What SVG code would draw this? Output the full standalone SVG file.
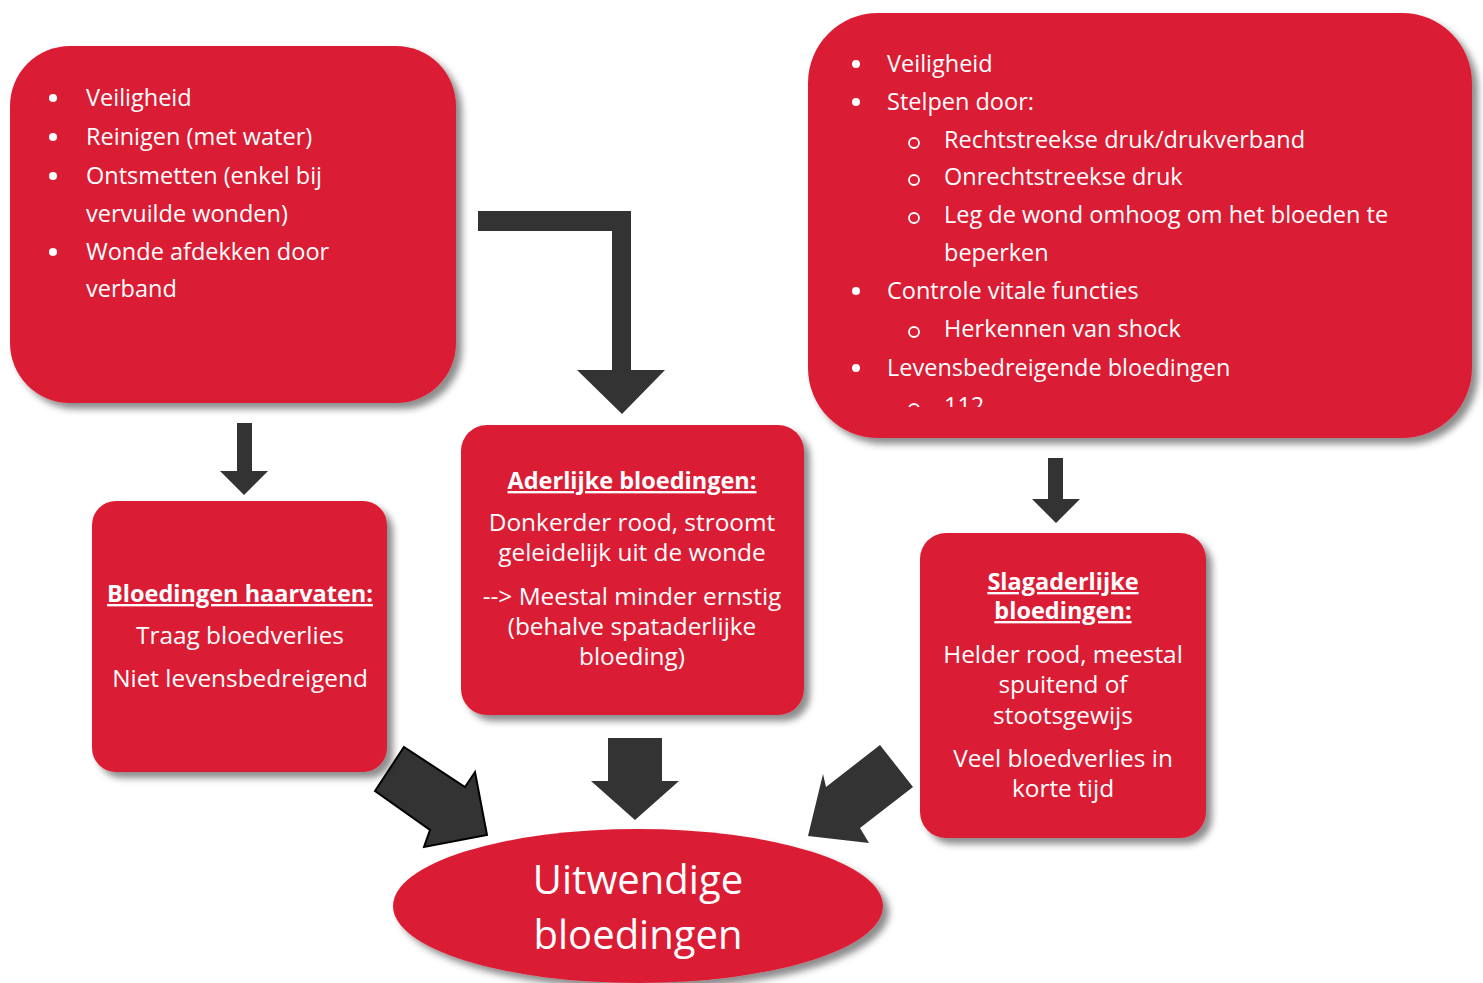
<svg xmlns="http://www.w3.org/2000/svg" width="1483" height="983" viewBox="0 0 1483 983">
<defs>
<style>
.box{fill:#DB1F35;filter:url(#sh);}
.t{font-family:"Open Sans","DejaVu Sans",sans-serif;font-size:23.5px;fill:#fff;}
.m{font-size:24.4px;}
.c{text-anchor:middle;}
.b{font-weight:bold;text-decoration:underline;font-size:23.5px;}
.big{font-family:"Open Sans","DejaVu Sans",sans-serif;font-size:40px;fill:#fff;text-anchor:middle;}
.dot{fill:#fff;}
.ring{fill:none;stroke:#fff;stroke-width:1.8;}
.arr{fill:#333333;}
</style>
<filter id="sh" x="-10%" y="-10%" width="125%" height="130%">
<feDropShadow dx="6" dy="6" stdDeviation="3.5" flood-color="#000" flood-opacity="0.45"/>
</filter>
<clipPath id="clipR"><rect x="808" y="13" width="664" height="394"/></clipPath>
</defs>
<rect width="1483" height="983" fill="#fff"/>

<g id="connectors">
<polygon class="arr" points="478,211 631,211 631,370 665,370 622,414 577,370 612,370 612,231 478,231"/>
<polygon class="arr" points="237,423 252,423 252,471 268,471 244,495 220,471 237,471"/>
<polygon class="arr" points="1048,458 1063,458 1063,499 1080,499 1056,523 1032,499 1048,499"/>
<polygon class="arr" points="608,738 662,738 662,781 679,781 635,820 591,781 608,781"/>
<polygon class="arr" points="404,747 465,787 475,772 487,835 424,847 430,830 375,791" stroke="#000" stroke-width="2" stroke-linejoin="miter"/>
<polygon class="arr" points="880,745 913,787 860,828 869,843 808,836 823,774 826,787"/>
</g>

<g id="node-care-left">
<rect class="box" x="10" y="46" width="446" height="357" rx="60" ry="60"/>
<circle class="dot" cx="53" cy="98" r="4"/>
<circle class="dot" cx="53" cy="137" r="4"/>
<circle class="dot" cx="53" cy="176" r="4"/>
<circle class="dot" cx="53" cy="252" r="4"/>
<text class="t" x="86" y="106">Veiligheid</text>
<text class="t" x="86" y="145">Reinigen (met water)</text>
<text class="t" x="86" y="184">Ontsmetten (enkel bij</text>
<text class="t" x="86" y="222">vervuilde wonden)</text>
<text class="t" x="86" y="260">Wonde afdekken door</text>
<text class="t" x="86" y="297">verband</text>
</g>

<g id="node-care-right">
<rect class="box" x="808" y="13" width="664" height="425" rx="70" ry="70"/>
<g clip-path="url(#clipR)">
<circle class="dot" cx="856" cy="64" r="4"/>
<circle class="dot" cx="856" cy="102" r="4"/>
<circle class="ring" cx="914" cy="143" r="5"/>
<circle class="ring" cx="914" cy="180" r="5"/>
<circle class="ring" cx="914" cy="218" r="5"/>
<circle class="dot" cx="856" cy="291" r="4"/>
<circle class="ring" cx="914" cy="332" r="5"/>
<circle class="dot" cx="856" cy="368" r="4"/>
<circle class="ring" cx="914" cy="409" r="5"/>
<text class="t" x="887" y="72">Veiligheid</text>
<text class="t" x="887" y="110">Stelpen door:</text>
<text class="t" x="944" y="148">Rechtstreekse druk/drukverband</text>
<text class="t" x="944" y="185">Onrechtstreekse druk</text>
<text class="t" x="944" y="223">Leg de wond omhoog om het bloeden te</text>
<text class="t" x="944" y="261">beperken</text>
<text class="t" x="887" y="299">Controle vitale functies</text>
<text class="t" x="944" y="337">Herkennen van shock</text>
<text class="t" x="887" y="376">Levensbedreigende bloedingen</text>
<text class="t" x="944" y="414">112</text>
</g>
</g>

<g id="node-haarvaten">
<rect class="box" x="92" y="501" width="295" height="271" rx="24" ry="24"/>
<text class="t c b" x="240" y="602">Bloedingen haarvaten:</text>
<text class="t m c" x="240" y="644">Traag bloedverlies</text>
<text class="t m c" x="240" y="687">Niet levensbedreigend</text>
</g>

<g id="node-aderlijke">
<rect class="box" x="461" y="425" width="343" height="290" rx="26" ry="26"/>
<text class="t c b" x="632" y="489">Aderlijke bloedingen:</text>
<text class="t m c" x="632" y="531">Donkerder rood, stroomt</text>
<text class="t m c" x="632" y="561">geleidelijk uit de wonde</text>
<text class="t m c" x="632" y="605">--&gt; Meestal minder ernstig</text>
<text class="t m c" x="632" y="635">(behalve spataderlijke</text>
<text class="t m c" x="632" y="665">bloeding)</text>
</g>

<g id="node-slagaderlijke">
<rect class="box" x="920" y="533" width="286" height="305" rx="26" ry="26"/>
<text class="t c b" x="1063" y="590">Slagaderlijke</text>
<text class="t c b" x="1063" y="619">bloedingen:</text>
<text class="t m c" x="1063" y="663">Helder rood, meestal</text>
<text class="t m c" x="1063" y="693">spuitend of</text>
<text class="t m c" x="1063" y="724">stootsgewijs</text>
<text class="t m c" x="1063" y="767">Veel bloedverlies in</text>
<text class="t m c" x="1063" y="797">korte tijd</text>
</g>

<g id="node-uitwendige">
<ellipse class="box" cx="638" cy="906" rx="245" ry="77"/>
<text class="big" x="638" y="894">Uitwendige</text>
<text class="big" x="638" y="949">bloedingen</text>
</g>
</svg>
